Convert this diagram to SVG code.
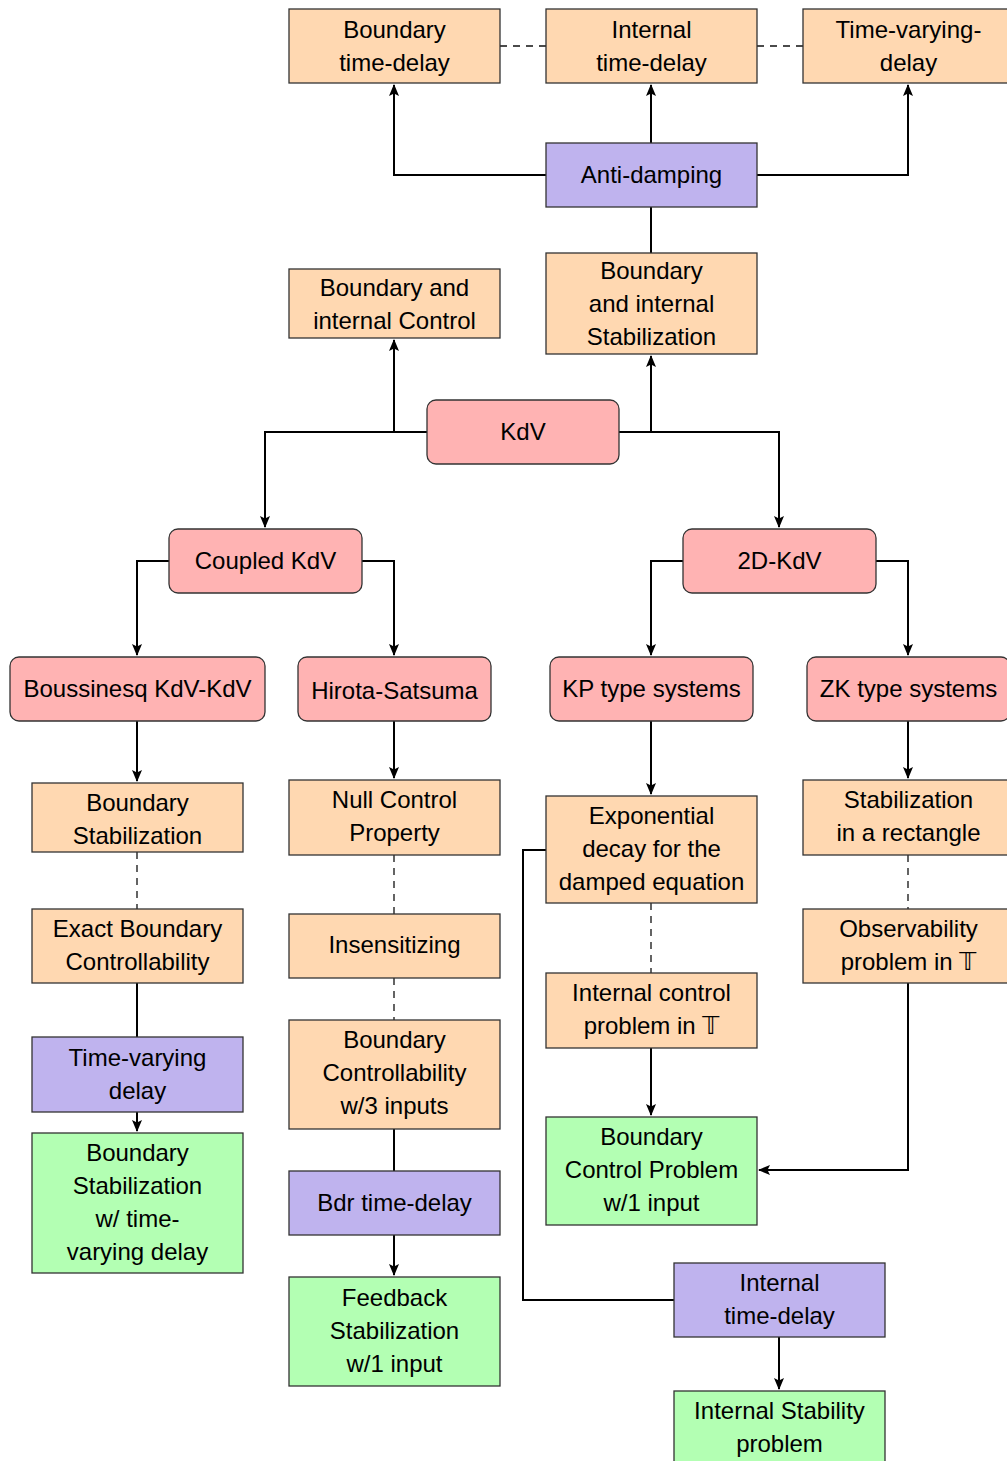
<svg xmlns="http://www.w3.org/2000/svg" width="1007" height="1461" viewBox="0 0 1007 1461">
<defs>
<style>
rect{stroke:#333;stroke-width:1.3}
.o{fill:#FFD8B1}
.p{fill:#BFB3EE}
.r{fill:#FFB3B3}
.g{fill:#B3FFB3}
text{font-family:"Liberation Sans",Arial,"DejaVu Sans",sans-serif;font-size:24px;fill:#000;text-anchor:middle}
.c path{fill:none;stroke:#000;stroke-width:2}
.c .a{marker-end:url(#ar)}
.c .d{stroke-width:1.3;stroke-dasharray:7 6;stroke:#111}
</style>
<marker id="ar" viewBox="0 0 12 12" refX="11" refY="6" markerWidth="12" markerHeight="12" markerUnits="userSpaceOnUse" orient="auto">
<path d="M0,1 L12,6 L0,11 L2.5,6 Z" fill="#000"/>
</marker>
</defs>
<rect width="1007" height="1461" fill="#fff" style="stroke:none"/>
<g class="c" id="connectors">
<path class="a" d="M546,175 H394 V85"/>
<path class="a" d="M651,143 V85"/>
<path class="a" d="M757,175 H908 V85"/>
<path class="d" d="M500,46 H546"/>
<path class="d" d="M757,46 H803"/>
<path d="M651,207 V253"/>
<path class="a" d="M427,432 H265 V527"/>
<path class="a" d="M394,432 V340"/>
<path class="a" d="M619,432 H779 V527"/>
<path class="a" d="M651,432 V356"/>
<path class="a" d="M169,561 H137 V655"/>
<path class="a" d="M362,561 H394 V655"/>
<path class="a" d="M683,561 H651 V655"/>
<path class="a" d="M876,561 H908 V655"/>
<path class="a" d="M137,721 V781"/>
<path class="a" d="M394,721 V778"/>
<path class="a" d="M651,721 V794"/>
<path class="a" d="M908,721 V778"/>
<path class="d" d="M137,852 V909"/>
<path class="d" d="M394,855 V914"/>
<path class="d" d="M394,978 V1020"/>
<path class="d" d="M651,903 V973"/>
<path class="d" d="M908,855 V909"/>
<path d="M137,983 V1037"/>
<path class="a" d="M137,1112 V1131"/>
<path d="M394,1129 V1171"/>
<path class="a" d="M394,1235 V1275"/>
<path class="a" d="M651,1048 V1115"/>
<path class="a" d="M908,983 V1170 H759"/>
<path d="M546,850 H523 V1300 H674"/>
<path class="a" d="M779,1337 V1389"/>
</g>
<g id="n1"><rect class="o" x="289" y="9" width="211" height="74"/><text x="394.5" y="37.5">Boundary</text><text x="394.5" y="70.5">time-delay</text></g>
<g id="n2"><rect class="o" x="546" y="9" width="211" height="74"/><text x="651.5" y="37.5">Internal</text><text x="651.5" y="70.5">time-delay</text></g>
<g id="n3"><rect class="o" x="803" y="9" width="211" height="74"/><text x="908.5" y="37.5">Time-varying-</text><text x="908.5" y="70.5">delay</text></g>
<g id="n4"><rect class="p" x="546" y="143" width="211" height="64"/><text x="651.5" y="183">Anti-damping</text></g>
<g id="n5"><rect class="o" x="546" y="253" width="211" height="101"/><text x="651.5" y="279">Boundary</text><text x="651.5" y="312">and internal</text><text x="651.5" y="345">Stabilization</text></g>
<g id="n6"><rect class="o" x="289" y="269" width="211" height="69"/><text x="394.5" y="296">Boundary and</text><text x="394.5" y="329">internal Control</text></g>
<g id="n7"><rect class="r" x="427" y="400" width="192" height="64" rx="9"/><text x="523" y="440">KdV</text></g>
<g id="n8"><rect class="r" x="169" y="529" width="193" height="64" rx="9"/><text x="265.5" y="569">Coupled KdV</text></g>
<g id="n9"><rect class="r" x="683" y="529" width="193" height="64" rx="9"/><text x="779.5" y="569">2D-KdV</text></g>
<g id="n10"><rect class="r" x="10" y="657" width="255" height="64" rx="9"/><text x="137.5" y="697">Boussinesq KdV-KdV</text></g>
<g id="n11"><rect class="r" x="298" y="657" width="193" height="64" rx="9"/><text x="394.5" y="699">Hirota-Satsuma</text></g>
<g id="n12"><rect class="r" x="550" y="657" width="203" height="64" rx="9"/><text x="651.5" y="697">KP type systems</text></g>
<g id="n13"><rect class="r" x="807" y="657" width="203" height="64" rx="9"/><text x="908.5" y="697">ZK type systems</text></g>
<g id="n14"><rect class="o" x="32" y="783" width="211" height="69"/><text x="137.5" y="811">Boundary</text><text x="137.5" y="844">Stabilization</text></g>
<g id="n15"><rect class="o" x="289" y="780" width="211" height="75"/><text x="394.5" y="808">Null Control</text><text x="394.5" y="841">Property</text></g>
<g id="n16"><rect class="o" x="546" y="796" width="211" height="107"/><text x="651.5" y="824">Exponential</text><text x="651.5" y="857">decay for the</text><text x="651.5" y="890">damped equation</text></g>
<g id="n17"><rect class="o" x="803" y="780" width="211" height="75"/><text x="908.5" y="808">Stabilization</text><text x="908.5" y="841">in a rectangle</text></g>
<g id="n18"><rect class="o" x="32" y="909" width="211" height="74"/><text x="137.5" y="937">Exact Boundary</text><text x="137.5" y="970">Controllability</text></g>
<g id="n19"><rect class="o" x="289" y="914" width="211" height="64"/><text x="394.5" y="953">Insensitizing</text></g>
<g id="n20"><rect class="o" x="546" y="973" width="211" height="75"/><text x="651.5" y="1001">Internal control</text><text x="651.5" y="1034">problem in 𝕋</text></g>
<g id="n21"><rect class="o" x="803" y="909" width="211" height="74"/><text x="908.5" y="937">Observability</text><text x="908.5" y="970">problem in 𝕋</text></g>
<g id="n22"><rect class="p" x="32" y="1037" width="211" height="75"/><text x="137.5" y="1066">Time-varying</text><text x="137.5" y="1099">delay</text></g>
<g id="n23"><rect class="o" x="289" y="1020" width="211" height="109"/><text x="394.5" y="1048">Boundary</text><text x="394.5" y="1081">Controllability</text><text x="394.5" y="1114">w/3 inputs</text></g>
<g id="n24"><rect class="g" x="32" y="1133" width="211" height="140"/><text x="137.5" y="1161">Boundary</text><text x="137.5" y="1194">Stabilization</text><text x="137.5" y="1227">w/ time-</text><text x="137.5" y="1260">varying delay</text></g>
<g id="n25"><rect class="g" x="546" y="1117" width="211" height="108"/><text x="651.5" y="1145">Boundary</text><text x="651.5" y="1178">Control Problem</text><text x="651.5" y="1211">w/1 input</text></g>
<g id="n26"><rect class="p" x="289" y="1171" width="211" height="64"/><text x="394.5" y="1211">Bdr time-delay</text></g>
<g id="n27"><rect class="g" x="289" y="1277" width="211" height="109"/><text x="394.5" y="1306">Feedback</text><text x="394.5" y="1339">Stabilization</text><text x="394.5" y="1372">w/1 input</text></g>
<g id="n28"><rect class="p" x="674" y="1263" width="211" height="74"/><text x="779.5" y="1291">Internal</text><text x="779.5" y="1324">time-delay</text></g>
<g id="n29"><rect class="g" x="674" y="1391" width="211" height="80"/><text x="779.5" y="1419">Internal Stability</text><text x="779.5" y="1452">problem</text></g>
</svg>
